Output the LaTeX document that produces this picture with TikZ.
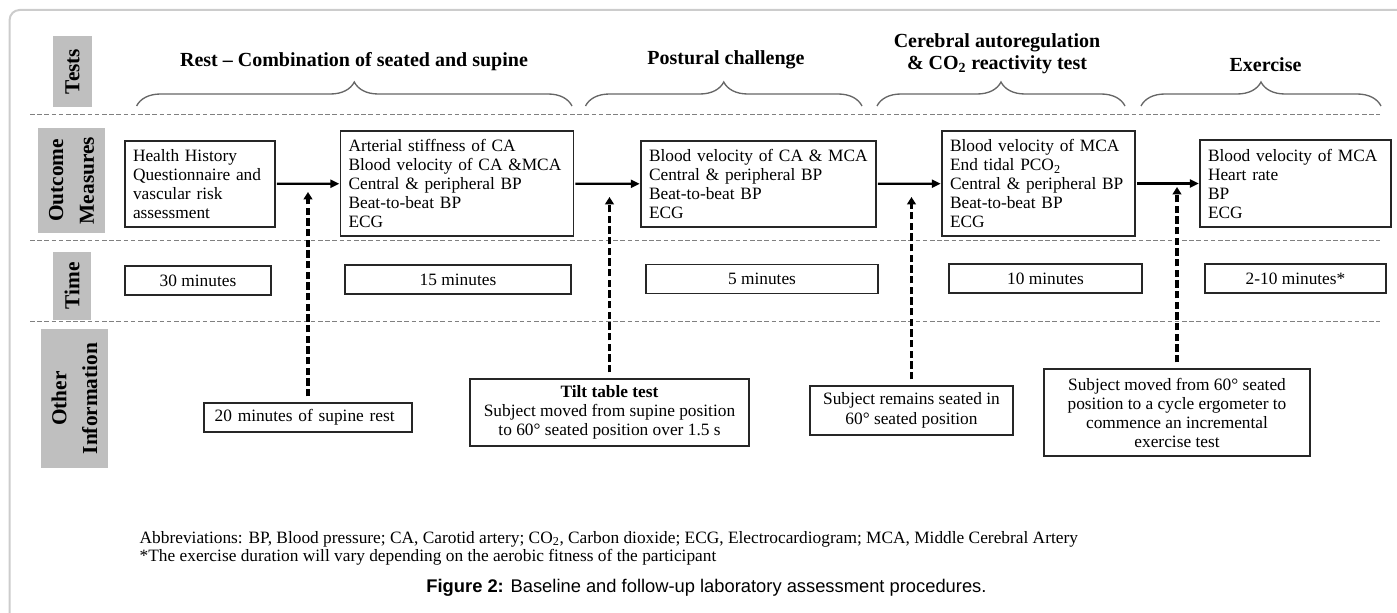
\documentclass[tikz,border=0pt]{standalone}
\usepackage{fontspec}
\setmainfont{Liberation Serif}
\newfontfamily\capfont{Liberation Sans}
\usetikzlibrary{arrows.meta,decorations.pathreplacing}

\begin{document}
\begin{tikzpicture}[x=0.75pt, y=-0.75pt,
  lbl/.style={fill=gray!50, rotate=90, align=center, inner sep=0pt, font=\fontsize{16}{23}\selectfont\bfseries},
  hdr/.style={align=center, font=\fontsize{15}{16.5}\selectfont\bfseries},
  mbox/.style={draw=black!85, line width=0.8pt, align=left, inner xsep=6pt, text width=#1, font=\fontsize{13}{14.25}\selectfont},
  tbox/.style={draw=black!85, line width=0.8pt, minimum width=#1, minimum height=21.75pt, inner sep=0pt, font=\fontsize{13}{14.25}\selectfont},
  ibox/.style={draw=black!85, line width=0.8pt, align=center, inner sep=0pt, font=\fontsize{13}{14.25}\selectfont},
  rowsep/.style={gray, line width=0.6pt, dash pattern=on 3.4pt off 2pt},
  brc/.style={black!60, line width=1pt, decorate, decoration={brace, amplitude=18pt}},
  flow/.style={->, >={Triangle[length=6.75pt,width=6pt]}, line width=1.7pt, shorten <=1pt, shorten >=0.5pt},
  cue/.style={->, >={Triangle[length=5.5pt,width=6.5pt]}, line width=2.3pt, dash pattern=on 5.5pt off 2.5pt, shorten <=4.5pt}]
\useasboundingbox (0,0) rectangle (1397,613);
% Outer frame
\draw[gray!40, line width=1.5pt, rounded corners=7.5pt] (9.6,620) -- (9.6,10) -- (1405,10);
% Row labels (grey boxes)
\node[lbl, minimum width=53.25pt, minimum height=29pt] (tests) at (72.5,71.5) {Tests};
\node[lbl, minimum width=78.75pt, minimum height=50pt] (outcome) at (71.5,180.5) {Outcome\\Measures};
\node[lbl, minimum width=51pt, minimum height=28pt] (time) at (72,286) {Time};
\node[lbl, minimum width=104.25pt, minimum height=50pt] (other) at (74.5,398.5) {Other\\Information};
% Row separators
\foreach \y in {114.5,240,321} \draw[rowsep] (30,\y) -- (1380,\y);
% Test headings and braces
\node[hdr] (rest) at (354,62) {Rest – Combination of seated and supine};
\node[hdr] (postural) at (726,60) {Postural challenge};
\node[hdr] (cerebral) at (997,54) {Cerebral autoregulation\\\& CO\textsubscript{2} reactivity test};
\node[hdr] (exercise) at (1265.5,65) {Exercise};
\draw[brc] (136.6,106) -- (572,106);
\draw[brc] (585.5,106) -- (862,106);
\draw[brc] (877,106) -- (1125,106);
\draw[brc] (1141,106) -- (1381,106);
% Outcome measures
\node[mbox=100.5pt, minimum height=64.5pt] (health) at (200,184) {Health History\\Questionnaire and\\vascular risk\\assessment};
\node[mbox=162.75pt, minimum height=78.75pt] (stiff) at (457,183.5) {Arterial stiffness of CA\\Blood velocity of CA \&MCA\\Central \& peripheral BP\\Beat-to-beat BP\\ECG};
\node[mbox=164.25pt, minimum height=64.5pt] (tilt) at (758.5,184) {Blood velocity of CA \& MCA\\Central \& peripheral BP\\Beat-to-beat BP\\ECG};
\node[mbox=132.75pt, minimum height=78.75pt] (co2) at (1038.5,183.5) {Blood velocity of MCA\\End tidal PCO\textsubscript{2}\\Central \& peripheral BP\\Beat-to-beat BP\\ECG};
\node[mbox=131.25pt, minimum height=65.25pt] (cycle) at (1295.5,183.5) {Blood velocity of MCA\\Heart rate\\BP\\ECG};
\draw[flow] (health) -- (stiff);
\draw[flow] (stiff) -- (tilt);
\draw[flow] (tilt) -- (co2);
\draw[flow] (co2) -- (cycle);
% Durations
\node[tbox=109.5pt] (t30) at (198,280.5) {30 minutes};
\node[tbox=169.5pt] (t15) at (458,279.5) {15 minutes};
\node[tbox=174pt] (t5) at (762,279) {5 minutes};
\node[tbox=144.75pt] (t10) at (1045.5,278.5) {10 minutes};
\node[tbox=135.75pt] (t2) at (1295.5,278.5) {2-10 minutes*};
% Other information
\node[ibox, align=left, text width=140pt, inner xsep=8pt, minimum height=21.75pt] (supine) at (308,417.5) {20 minutes of supine rest};
\node[ibox, minimum width=209.25pt, minimum height=50.25pt] (tilttest) at (609.5,412.5) {\textbf{Tilt table test}\\Subject moved from supine position\\to 60° seated position over 1.5 s};
\node[ibox, minimum width=152.25pt, minimum height=36.75pt, font=\fontsize{13}{15}\selectfont] (seated) at (911.5,410.5) {Subject remains seated in\\60° seated position};
\node[ibox, minimum width=199.5pt, minimum height=65.25pt] (ergo) at (1177,412.5) {Subject moved from 60° seated\\position to a cycle ergometer to\\commence an incremental\\exercise test};
\coordinate (c1) at (308,192); \coordinate (c2) at (609.5,197);
\coordinate (c3) at (911.5,197); \coordinate (c4) at (1177,187);
\draw[cue] (supine) -- (c1);
\draw[cue] (tilttest) -- (c2);
\draw[cue] (seated) -- (c3);
\draw[cue] (ergo) -- (c4);
% Notes and caption
\node[anchor=west, align=left, font=\fontsize{13}{13.5}\selectfont] (abbr) at (135,548) {Abbreviations: BP, Blood pressure; CA, Carotid artery; CO\textsubscript{2}, Carbon dioxide; ECG, Electrocardiogram; MCA, Middle Cerebral Artery\\{}*The exercise duration will vary depending on the aerobic fitness of the participant};
\node[font=\capfont\fontsize{13.75}{16}\selectfont] (caption) at (706.5,588) {\textbf{Figure 2:} Baseline and follow-up laboratory assessment procedures.};
\end{tikzpicture}
\end{document}
